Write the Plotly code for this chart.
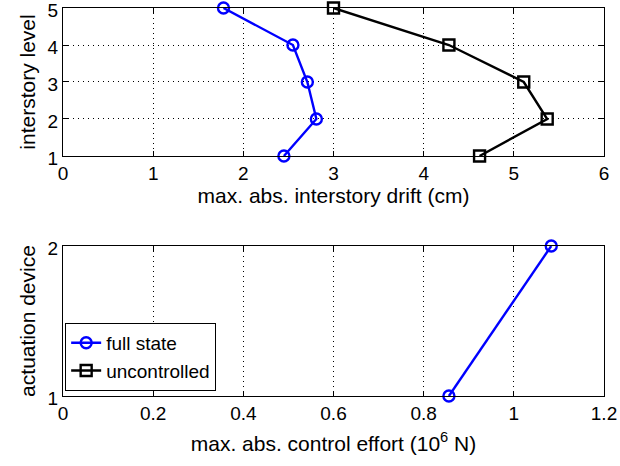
import plotly.graph_objects as go

levels = [5, 4, 3, 2, 1]
drift_full = [1.78, 2.55, 2.71, 2.81, 2.45]
drift_unc = [3.0, 4.28, 5.11, 5.37, 4.62]

devices = [1, 2]
effort_full = [0.856, 1.083]

BLUE = "#0000ff"
FONT = "Liberation Sans, Arial, sans-serif"

fig = go.Figure()
fig.add_trace(go.Scatter(x=drift_full, y=levels, mode="lines+markers", name="full state",
                         line=dict(color=BLUE, width=2.4),
                         marker=dict(symbol="circle-open", size=11, color=BLUE, line=dict(width=2.4)),
                         xaxis="x", yaxis="y", showlegend=False, cliponaxis=False))
fig.add_trace(go.Scatter(x=drift_unc, y=levels, mode="lines+markers", name="uncontrolled",
                         line=dict(color="black", width=2.4),
                         marker=dict(symbol="square-open", size=11, color="black", line=dict(width=2.4)),
                         xaxis="x", yaxis="y", showlegend=True, legendrank=2, cliponaxis=False))
fig.add_trace(go.Scatter(x=effort_full, y=devices, mode="lines+markers", name="full state",
                         line=dict(color=BLUE, width=2.4),
                         marker=dict(symbol="circle-open", size=11, color=BLUE, line=dict(width=2.4)),
                         xaxis="x2", yaxis="y2", showlegend=True, legendrank=1, cliponaxis=False))

axis_common = dict(showline=True, linecolor="black", linewidth=1, mirror="ticks",
                   ticks="inside", ticklen=5, tickcolor="black", automargin=False,
                   ticklabeloverflow="allow",
                   showgrid=True, gridcolor="black", gridwidth=0.8, griddash="1px,4px",
                   zeroline=False, tickfont=dict(size=19, color="black", family=FONT))

TITLE = 21

fig.update_layout(
    width=620, height=466,
    margin=dict(l=63, r=16, t=8, b=70),
    paper_bgcolor="white", plot_bgcolor="white",
    font=dict(family=FONT, size=TITLE, color="black"),
    xaxis=dict(domain=[0, 1], anchor="y", range=[0, 6], dtick=1,
               title=dict(text="max. abs. interstory drift (cm)", font=dict(size=TITLE), standoff=1),
               **axis_common),
    yaxis=dict(domain=[0.6186, 1], anchor="x", range=[1, 5], dtick=1, ticklabelshift=2,
               title=dict(text="interstory level", font=dict(size=TITLE), standoff=6),
               **axis_common),
    xaxis2=dict(domain=[0, 1], anchor="y2", range=[0, 1.2],
                tickvals=[0, 0.2, 0.4, 0.6, 0.8, 1.0, 1.2],
                ticktext=["0", "0.2", "0.4", "0.6", "0.8", "1", "1.2"],
                title=dict(text="max. abs. control effort (10<sup>6</sup> N)", font=dict(size=TITLE), standoff=13),
                **axis_common),
    yaxis2=dict(domain=[0, 0.3866], anchor="x2", range=[1, 2], dtick=1, ticklabelshift=2,
                title=dict(text="actuation device", font=dict(size=TITLE), standoff=6),
                **axis_common),
    legend=dict(x=0.004, y=0.013, xanchor="left", yanchor="bottom",
                bgcolor="white", bordercolor="black", borderwidth=1,
                font=dict(size=19, color="black", family=FONT),
                traceorder="normal", tracegroupgap=0),
)

fig.write_html("out.html", config={"displayModeBar": False},
               post_script="document.body.style.margin='0';document.body.style.padding='0';")
